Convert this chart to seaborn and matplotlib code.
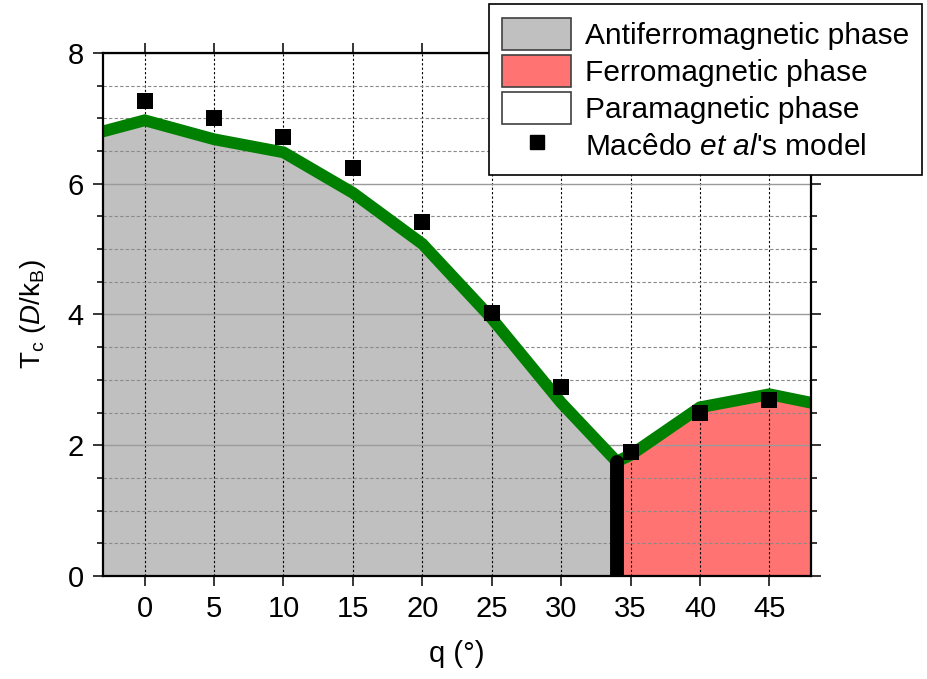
import matplotlib
matplotlib.use("Agg")
import matplotlib.pyplot as plt
from matplotlib.patches import Patch
from matplotlib.lines import Line2D
from matplotlib.ticker import MultipleLocator
import numpy as np
import pandas as pd
import seaborn as sns

# transition line (green)
theta = [-3, 0, 5, 10, 15, 20, 25, 30, 34, 35, 40, 45, 48]
tc_line = [6.80, 6.97, 6.68, 6.48, 5.86, 5.08, 3.94, 2.65, 1.75, 1.85, 2.58, 2.78, 2.65]

# Macêdo et al's model points
theta_model = [0, 5, 10, 15, 20, 25, 30, 35, 40, 45]
tc_model = [7.26, 7.00, 6.72, 6.24, 5.42, 4.02, 2.89, 1.90, 2.49, 2.69]

theta_split = 34
split_top = 1.75

xticks = [0, 5, 10, 15, 20, 25, 30, 35, 40, 45]
yticks = [0, 2, 4, 6, 8]

sns.set_style("ticks")
plt.rcParams['font.family'] = ['Liberation Sans', 'DejaVu Sans']
plt.rcParams['mathtext.fontset'] = 'custom'
plt.rcParams['mathtext.rm'] = 'Liberation Sans'
plt.rcParams['mathtext.it'] = 'Liberation Sans:italic'
plt.rcParams['text.color'] = 'black'
plt.rcParams['axes.labelcolor'] = 'black'
plt.rcParams['xtick.color'] = 'black'
plt.rcParams['ytick.color'] = 'black'

df_line = pd.DataFrame({'theta': theta, 'tc': tc_line})
df_model = pd.DataFrame({'theta': theta_model, 'tc': tc_model})

fig = plt.figure(figsize=(9.28, 6.79), dpi=100)
ax = fig.add_axes([0.111, 0.1517, 0.763, 0.7703])

x = np.array(theta, dtype=float)
y = np.array(tc_line)
ax.fill_between(x, 0, y, where=x <= theta_split, color='#C0C0C0', lw=0, zorder=1)
ax.fill_between(x, 0, y, where=x >= theta_split, color='#FF7373', lw=0, zorder=1)

sns.lineplot(data=df_line, x='theta', y='tc', color='#008000', lw=8.5, ax=ax,
             zorder=3, solid_joinstyle='miter')
ax.plot([theta_split, theta_split], [0, split_top], color='black', lw=10,
        solid_capstyle='round', zorder=3.5)
sns.scatterplot(data=df_model, x='theta', y='tc', marker='s', color='black',
                s=125, edgecolor='black', linewidth=0, ax=ax, zorder=4)

ax.set_xlim(-3, 48)
ax.set_ylim(0, 8)
ax.set_xticks(xticks)
ax.set_yticks(yticks)
ax.yaxis.set_minor_locator(MultipleLocator(0.5))

ax.set_axisbelow(False)
ax.grid(axis='x', which='major', color='black', ls=(0, (2, 2)), lw=0.8, zorder=2)
ax.grid(axis='y', which='major', color='#9A9A9A', ls='-', lw=1.0, zorder=2)
ax.grid(axis='y', which='minor', color='#8A8A8A', ls=(0, (3, 2)), lw=0.8, zorder=2)

for s in ax.spines.values():
    s.set_linewidth(1.6)
    s.set_color('black')
    s.set_zorder(5)

ax.tick_params(axis='both', which='major', direction='out', length=7, width=1.1,
               labelsize=21, color='black', labelcolor='black', top=True, right=True, pad=7)
ax.tick_params(axis='x', which='minor', bottom=False, top=False)
ax.tick_params(axis='y', which='minor', direction='out', length=4, width=1.1,
               left=True, right=True)

ax.set_xlabel('q (°)', fontsize=21, labelpad=12)
ax.set_ylabel(r'T$_\mathrm{c}$ ($\mathit{D}$/k$_\mathrm{B}$)', fontsize=20, labelpad=14)

handles = [
    Patch(facecolor='#C0C0C0', edgecolor='#404040', lw=1.2),
    Patch(facecolor='#FF7373', edgecolor='#404040', lw=1.2),
    Patch(facecolor='white', edgecolor='#404040', lw=1.2),
    Line2D([], [], marker='s', ls='none', color='black', markersize=10),
]
labels = ['Antiferromagnetic phase', 'Ferromagnetic phase', 'Paramagnetic phase',
          r'Macêdo $\mathit{et\ al}$' + "'s model"]
leg = ax.legend(handles, labels, loc='upper left', bbox_to_anchor=(0.527, 0.994),
                bbox_transform=fig.transFigure, fontsize=21.5, frameon=True,
                fancybox=False, edgecolor='black', framealpha=1,
                handlelength=2.3, handleheight=1.3, labelspacing=0.15,
                handletextpad=0.45, borderpad=0.45, borderaxespad=0)
leg.get_frame().set_linewidth(1.2)
leg.set_zorder(10)

fig.savefig('out.png', dpi=100)
